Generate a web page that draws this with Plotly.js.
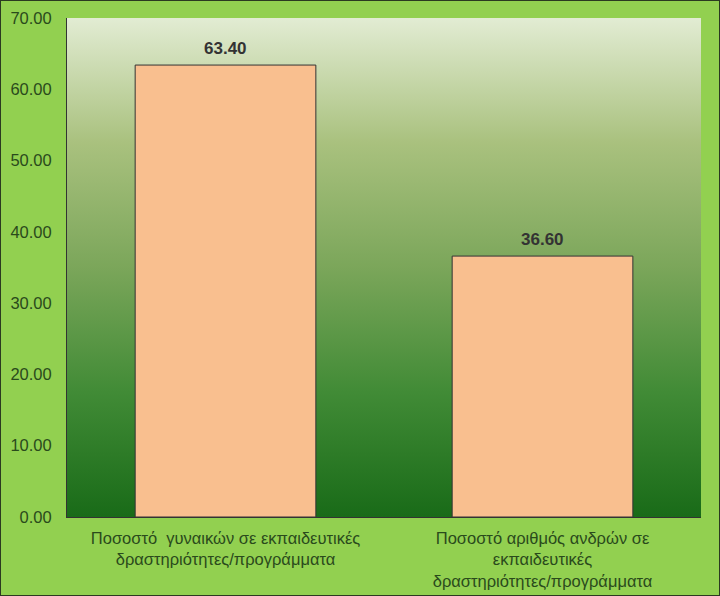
<!DOCTYPE html>
<html>
<head>
<meta charset="utf-8">
<script src="https://cdn.plot.ly/plotly-3.0.1.min.js"></script>
<style>
html,body{margin:0;padding:0;background:#92d050;}
#chart{width:718px;height:594px;border:1px solid #2b3a20;}
</style>
</head>
<body>
<div id="chart"></div>
<script>
const categories = [
  "Ποσοστό  γυναικών σε εκπαιδευτικές<br>δραστηριότητες/προγράμματα",
  "Ποσοστό αριθμός ανδρών σε<br>εκπαιδευτικές<br>δραστηριότητες/προγράμματα"
];
const values = [63.40, 36.60];
const valueLabels = ["63.40", "36.60"];
const yTicks = [0, 10, 20, 30, 40, 50, 60, 70];

const svg = '<svg xmlns="http://www.w3.org/2000/svg" width="100" height="100" preserveAspectRatio="none">' +
  '<defs><linearGradient id="g" x1="0" y1="0" x2="0" y2="1">' +
  '<stop offset="0" stop-color="#e2ecd3"/>' +
  '<stop offset="0.25" stop-color="#a9c17e"/>' +
  '<stop offset="0.5" stop-color="#7ba65a"/>' +
  '<stop offset="0.75" stop-color="#418b36"/>' +
  '<stop offset="1" stop-color="#196b18"/>' +
  '</linearGradient></defs><rect width="100" height="100" fill="url(#g)"/></svg>';
const bgUri = 'data:image/svg+xml;base64,' + btoa(svg);

const trace = {
  type: 'bar',
  x: categories,
  y: values,
  width: 0.57,
  marker: {color: '#f9bf8f', line: {color: '#333333', width: 1}},
  hoverinfo: 'none'
};

const annotations = categories.map((c, i) => ({
  x: c, y: values[i], xref: 'x', yref: 'y',
  text: valueLabels[i], showarrow: false,
  yanchor: 'bottom', yshift: 5,
  font: {family: 'Liberation Sans, Arial, sans-serif', size: 17, color: '#333333', weight: 'bold'}
}));

const layout = {
  width: 718, height: 594,
  margin: {l: 66, r: 18, t: 17, b: 78},
  paper_bgcolor: '#92d050',
  plot_bgcolor: 'rgba(0,0,0,0)',
  showlegend: false,
  font: {family: 'Liberation Sans, Arial, sans-serif', color: '#2a4a1c'},
  annotations: annotations,
  images: [{
    source: bgUri, xref: 'paper', yref: 'paper', x: 0, y: 1,
    sizex: 1, sizey: 1, sizing: 'stretch', layer: 'below',
    xanchor: 'left', yanchor: 'top'
  }],
  xaxis: {
    type: 'category',
    showgrid: false,
    showline: true, linecolor: '#333333', linewidth: 1,
    ticks: '',
    ticklabelstandoff: 6,
    tickfont: {size: 16.5, color: '#2a4a1c'},
    fixedrange: true
  },
  yaxis: {
    range: [0, 70],
    tickvals: yTicks,
    ticktext: yTicks.map(v => v.toFixed(2)),
    showgrid: false,
    zeroline: false,
    showline: true, linecolor: '#333333', linewidth: 1,
    ticks: '',
    ticklabelstandoff: 11,
    tickfont: {size: 16.5, color: '#2a4a1c'},
    fixedrange: true
  }
};

Plotly.newPlot('chart', [trace], layout, {displayModeBar: false, staticPlot: true});
</script>
</body>
</html>
